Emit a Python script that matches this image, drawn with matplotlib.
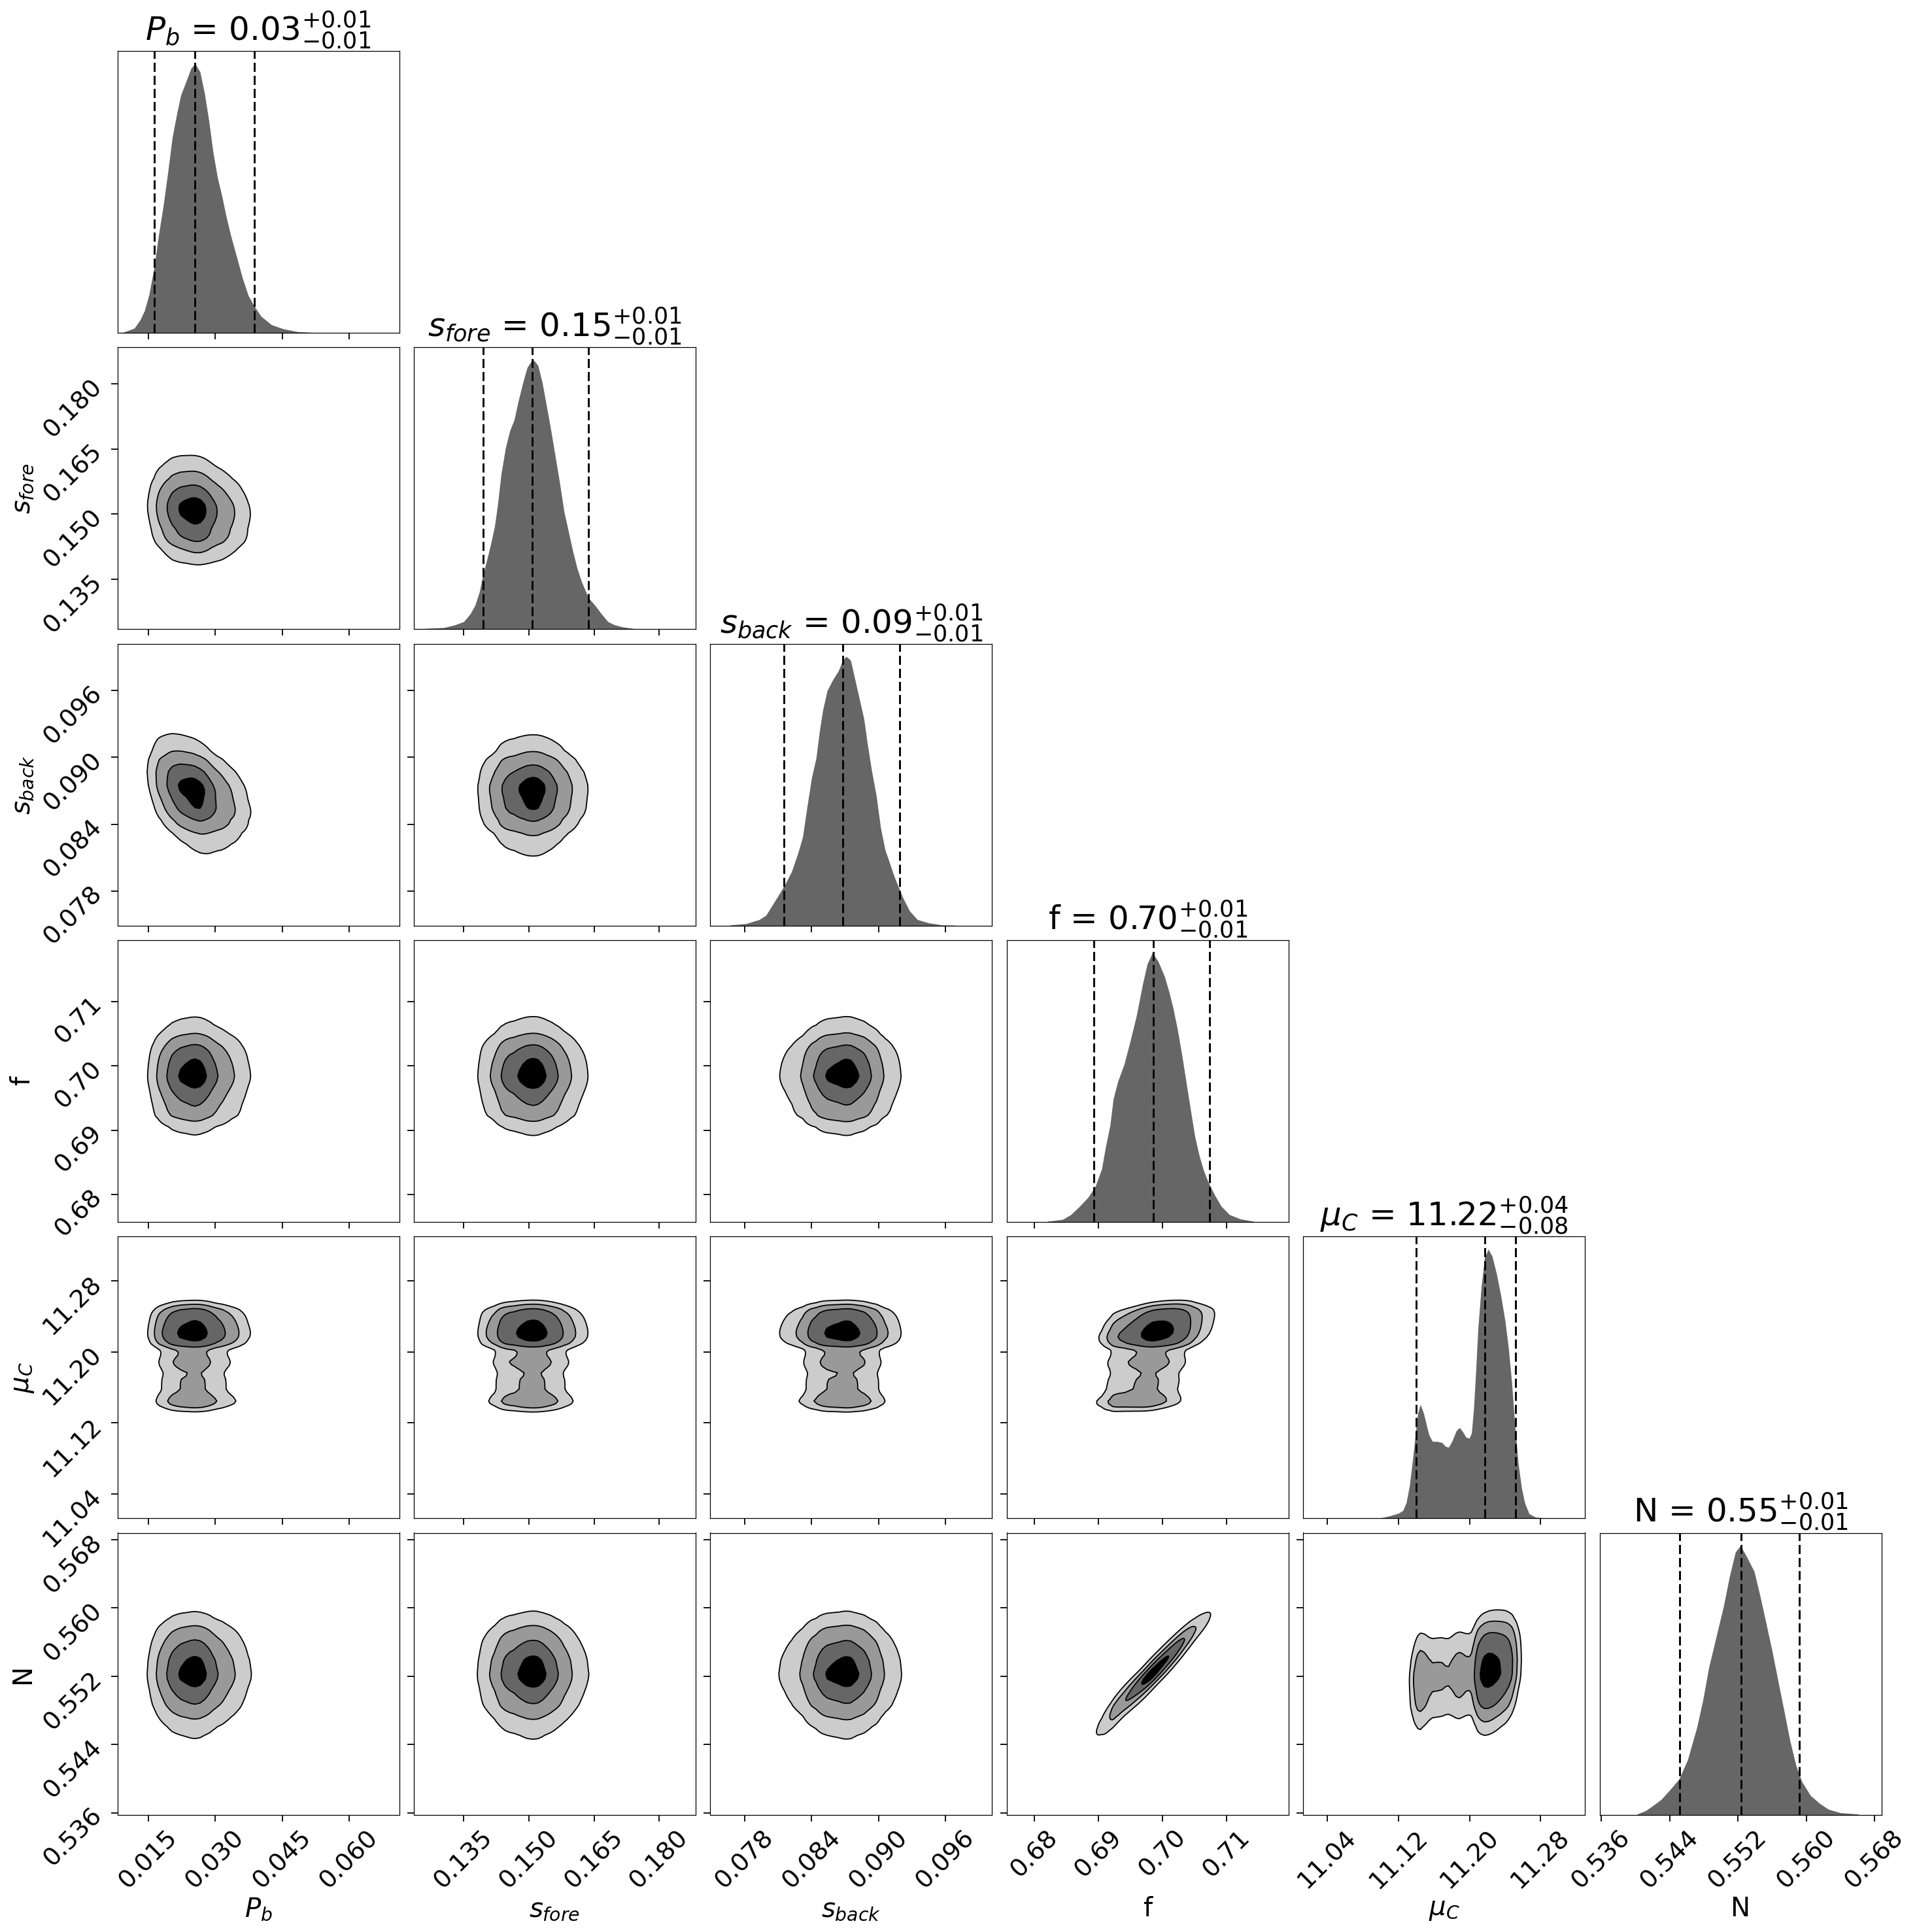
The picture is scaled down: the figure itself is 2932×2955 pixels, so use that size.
import numpy as np
import matplotlib
matplotlib.use("Agg")
import matplotlib.pyplot as plt
from matplotlib.ticker import FixedLocator, FixedFormatter, NullLocator

# ---------------- data ----------------
labels = [r"$P_b$", r"$s_{fore}$", r"$s_{back}$", "f", r"$\mu_C$", "N"]
title_med = ["0.03", "0.15", "0.09", "0.70", "11.22", "0.55"]
title_minus = ["0.01", "0.01", "0.01", "0.01", "0.08", "0.01"]
title_plus = ["0.01", "0.01", "0.01", "0.01", "0.04", "0.01"]

q16 = [0.0163, 0.1395, 0.0815, 0.6893, 11.1396, 0.5452]
q50 = [0.0255, 0.1508, 0.0868, 0.6985, 11.2170, 0.5524]
q84 = [0.0387, 0.1637, 0.0919, 0.7073, 11.2520, 0.5592]

axis_ranges = [(0.0081, 0.0712), (0.1235, 0.1884), (0.0749, 0.1002),
               (0.6757, 0.7196), (11.0125, 11.3298), (0.5358, 0.5688)]

ticks_pb = [0.015, 0.030, 0.045, 0.060]
ticks_sfore = [0.135, 0.150, 0.165, 0.180]
ticks_sback = [0.078, 0.084, 0.090, 0.096]
ticks_f = [0.68, 0.69, 0.70, 0.71]
ticks_mu = [11.04, 11.12, 11.20, 11.28]
ticks_n = [0.536, 0.544, 0.552, 0.560, 0.568]
ticklabels_pb = ["0.015", "0.030", "0.045", "0.060"]
ticklabels_sfore = ["0.135", "0.150", "0.165", "0.180"]
ticklabels_sback = ["0.078", "0.084", "0.090", "0.096"]
ticklabels_f = ["0.68", "0.69", "0.70", "0.71"]
ticklabels_mu = ["11.04", "11.12", "11.20", "11.28"]
ticklabels_n = ["0.536", "0.544", "0.552", "0.560", "0.568"]

# marginal posterior densities (relative to peak)
pb_x = [0.0090, 0.0096, 0.0119, 0.0132, 0.0142, 0.0152, 0.0163, 0.0174, 0.0184, 0.0194,
        0.0204, 0.0214, 0.0223, 0.0237, 0.0246, 0.0255, 0.0266, 0.0276, 0.0286, 0.0295,
        0.0305, 0.0315, 0.0325, 0.0335, 0.0348, 0.0361, 0.0374, 0.0387, 0.0403, 0.0426,
        0.0452, 0.0485, 0.0511, 0.0524]
pb_h = [0.0, 0.003, 0.017, 0.048, 0.083, 0.143, 0.239, 0.370, 0.474, 0.596,
        0.726, 0.813, 0.883, 0.943, 0.983, 1.0, 0.970, 0.891, 0.787, 0.674,
        0.578, 0.509, 0.430, 0.361, 0.283, 0.204, 0.139, 0.100, 0.061, 0.030,
        0.015, 0.004, 0.002, 0.0]

sf_x = [0.1255, 0.1305, 0.1330, 0.1350, 0.1365, 0.1376, 0.1386, 0.1393, 0.1401, 0.1411,
        0.1421, 0.1428, 0.1436, 0.1446, 0.1456, 0.1466, 0.1476, 0.1486, 0.1496, 0.1504,
        0.1511, 0.1521, 0.1531, 0.1541, 0.1551, 0.1561, 0.1571, 0.1581, 0.1591, 0.1601,
        0.1611, 0.1621, 0.1637, 0.1652, 0.1667, 0.1682, 0.1697, 0.1717, 0.1742, 0.1797]
sf_h = [0.002, 0.006, 0.016, 0.028, 0.057, 0.089, 0.138, 0.194, 0.243, 0.308,
        0.381, 0.462, 0.575, 0.672, 0.737, 0.777, 0.850, 0.915, 0.972, 0.992,
        1.0, 0.980, 0.915, 0.826, 0.737, 0.640, 0.543, 0.437, 0.364, 0.291,
        0.227, 0.178, 0.117, 0.089, 0.057, 0.028, 0.016, 0.008, 0.002, 0.001]

sb_x = [0.0767, 0.0781, 0.0793, 0.0799, 0.0804, 0.0810, 0.0816, 0.0822, 0.0828, 0.0832,
        0.0836, 0.0840, 0.0844, 0.0847, 0.0850, 0.0854, 0.0859, 0.0864, 0.0868, 0.0871,
        0.0875, 0.0879, 0.0883, 0.0887, 0.0890, 0.0894, 0.0898, 0.0902, 0.0906, 0.0910,
        0.0914, 0.0918, 0.0922, 0.0928, 0.0935, 0.0945, 0.0957, 0.0969]
sb_h = [0.002, 0.007, 0.022, 0.038, 0.071, 0.111, 0.152, 0.200, 0.273, 0.330,
        0.443, 0.549, 0.622, 0.719, 0.800, 0.873, 0.913, 0.946, 0.986, 1.0,
        0.986, 0.913, 0.840, 0.767, 0.678, 0.573, 0.484, 0.362, 0.281, 0.233,
        0.184, 0.143, 0.103, 0.054, 0.022, 0.010, 0.002, 0.001]

f_x = [0.6820, 0.6844, 0.6857, 0.6871, 0.6884, 0.6895, 0.6905, 0.6911, 0.6918, 0.6923,
       0.6930, 0.6940, 0.6949, 0.6959, 0.6969, 0.6976, 0.6984, 0.6993, 0.7003, 0.7010,
       0.7016, 0.7023, 0.7030, 0.7037, 0.7044, 0.7050, 0.7057, 0.7064, 0.7071, 0.7081,
       0.7091, 0.7104, 0.7121, 0.7142]
f_h = [0.002, 0.009, 0.027, 0.059, 0.092, 0.132, 0.197, 0.278, 0.359, 0.457,
       0.521, 0.586, 0.668, 0.765, 0.886, 0.959, 1.0, 0.968, 0.911, 0.854,
       0.797, 0.716, 0.619, 0.513, 0.408, 0.319, 0.246, 0.189, 0.148, 0.100,
       0.059, 0.027, 0.011, 0.002]

mu_x = [11.0992, 11.1102, 11.1200, 11.1249, 11.1286, 11.1323, 11.1359, 11.1391, 11.1416, 11.1445,
        11.1482, 11.1518, 11.1543, 11.1580, 11.1641, 11.1690, 11.1727, 11.1763, 11.1800, 11.1849,
        11.1886, 11.1923, 11.1959, 11.1996, 11.2021, 11.2045, 11.2069, 11.2094, 11.2131, 11.2167,
        11.2209, 11.2253, 11.2302, 11.2351, 11.2400, 11.2437, 11.2474, 11.2510, 11.2547, 11.2584,
        11.2620, 11.2669, 11.2743, 11.2853]
mu_h = [0.001, 0.009, 0.019, 0.029, 0.058, 0.122, 0.220, 0.317, 0.390, 0.423,
        0.390, 0.341, 0.309, 0.286, 0.285, 0.281, 0.267, 0.264, 0.285, 0.325,
        0.337, 0.321, 0.301, 0.297, 0.317, 0.406, 0.544, 0.706, 0.861, 0.966,
        1.0, 0.974, 0.909, 0.828, 0.731, 0.633, 0.504, 0.341, 0.204, 0.114,
        0.058, 0.017, 0.004, 0.001]

n_x = [0.5402, 0.5412, 0.5419, 0.5430, 0.5440, 0.5451, 0.5461, 0.5472, 0.5479, 0.5486,
       0.5496, 0.5503, 0.5510, 0.5517, 0.5523, 0.5531, 0.5539, 0.5546, 0.5553, 0.5560,
       0.5567, 0.5574, 0.5581, 0.5588, 0.5595, 0.5605, 0.5616, 0.5626, 0.5640, 0.5661]
n_h = [0.002, 0.015, 0.030, 0.056, 0.091, 0.132, 0.203, 0.325, 0.426, 0.548,
       0.680, 0.772, 0.883, 0.975, 1.0, 0.954, 0.904, 0.812, 0.711, 0.609,
       0.497, 0.386, 0.274, 0.183, 0.122, 0.071, 0.041, 0.020, 0.007, 0.002]

pair_rho = [(1, 0, -0.10), (2, 0, -0.35), (4, 3, 0.35), (5, 3, 0.965), (5, 4, 0.20)]
# enclosed probability of the contour levels (0.5, 1, 1.5, 2 sigma)
contour_mass = [0.118, 0.393, 0.675, 0.865]
fill_colors = ["#cccccc", "#999999", "#666666", "#000000"]

# ---------------- figure ----------------
plt.rcParams["axes.linewidth"] = 0.9
W, H = 2932, 2955
fig = plt.figure(figsize=(W / 100, H / 100), dpi=100)

xs_list = [pb_x, sf_x, sb_x, f_x, mu_x, n_x]
hs_list = [pb_h, sf_h, sb_h, f_h, mu_h, n_h]
ticks_list = [ticks_pb, ticks_sfore, ticks_sback, ticks_f, ticks_mu, ticks_n]
ticklabel_list = [ticklabels_pb, ticklabels_sfore, ticklabels_sback,
                  ticklabels_f, ticklabels_mu, ticklabels_n]
K = len(labels)

LEFT, TOP, SIZE, PITCH_X, PITCH_Y = 179.5, 78.0, 431.0, 453.4, 453.3
TICK_FS, LABEL_FS, TITLE_FS = 27.5, 29, 36

# normal-score table for building joint densities from the marginals
zt = np.linspace(-7, 7, 4001)
Phi = np.cumsum(np.exp(-0.5 * zt ** 2))
Phi = Phi / Phi[-1]

grids, dens, zsc = [], [], []
for k in range(K):
    lo, hi = axis_ranges[k]
    g = np.linspace(lo, hi, 400)
    d = np.interp(g, xs_list[k], hs_list[k], left=0.0, right=0.0)
    F = (np.cumsum(d) - 0.5 * d) / d.sum()
    F = np.clip(F, 1e-9, 1 - 1e-9)
    grids.append(g)
    dens.append(d)
    zsc.append(np.interp(F, Phi, zt))

rho_lookup = {(r, c): v for r, c, v in pair_rho}


def style_axis(ax, i, j, diag):
    ax.tick_params(direction="out", length=7, width=1.3, labelsize=TICK_FS, pad=5)
    ax.xaxis.set_major_locator(FixedLocator(ticks_list[j]))
    if i == K - 1:
        ax.xaxis.set_major_formatter(FixedFormatter(ticklabel_list[j]))
        for lab in ax.get_xticklabels():
            lab.set_rotation(45)
        ax.set_xlabel(labels[j], fontsize=LABEL_FS)
        ax.xaxis.set_label_coords(0.5, -0.29)
    else:
        ax.set_xticklabels([])
    if diag:
        ax.yaxis.set_major_locator(NullLocator())
    else:
        ax.yaxis.set_major_locator(FixedLocator(ticks_list[i]))
        if j == 0:
            ax.yaxis.set_major_formatter(FixedFormatter(ticklabel_list[i]))
            for lab in ax.get_yticklabels():
                lab.set_rotation(45)
            ax.set_ylabel(labels[i], fontsize=LABEL_FS)
            ax.yaxis.set_label_coords(-0.29, 0.5)
        else:
            ax.set_yticklabels([])


for i in range(K):
    for j in range(i + 1):
        left = (LEFT + j * PITCH_X) / W
        bottom = 1 - (TOP + i * PITCH_Y + SIZE) / H
        ax = fig.add_axes([left, bottom, SIZE / W, SIZE / H])
        if i == j:
            ax.fill_between(xs_list[i], hs_list[i], 0, color="#666666", linewidth=0)
            for q in (q16[i], q50[i], q84[i]):
                ax.axvline(q, color="k", lw=2.1, linestyle=(0, (4.8, 2.05)))
            ax.set_xlim(*axis_ranges[i])
            ax.set_ylim(0, 1.047 * max(hs_list[i]))
            ax.set_title(f"{labels[i]} = ${title_med[i]}_{{-{title_minus[i]}}}^{{+{title_plus[i]}}}$",
                         fontsize=TITLE_FS)
            style_axis(ax, i, j, True)
        else:
            rho = rho_lookup.get((i, j), 0.0)
            a = zsc[i][:, None]
            b = zsc[j][None, :]
            cop = np.exp(-(rho ** 2 * (a ** 2 + b ** 2) - 2 * rho * a * b)
                         / (2 * (1 - rho ** 2))) / np.sqrt(1 - rho ** 2)
            J = dens[i][:, None] * dens[j][None, :] * cop
            flat = np.sort(J.ravel())[::-1]
            cs = np.cumsum(flat)
            cs = cs / cs[-1]
            V = sorted(flat[np.searchsorted(cs, m)] for m in contour_mass)
            ax.contourf(grids[j], grids[i], J, levels=list(V) + [J.max() * 1.0001],
                        colors=fill_colors, antialiased=True)
            ax.contour(grids[j], grids[i], J, levels=V, colors="k", linewidths=1.3)
            ax.set_xlim(*axis_ranges[j])
            ax.set_ylim(*axis_ranges[i])
            style_axis(ax, i, j, False)

fig.savefig("out.png", dpi=100)
